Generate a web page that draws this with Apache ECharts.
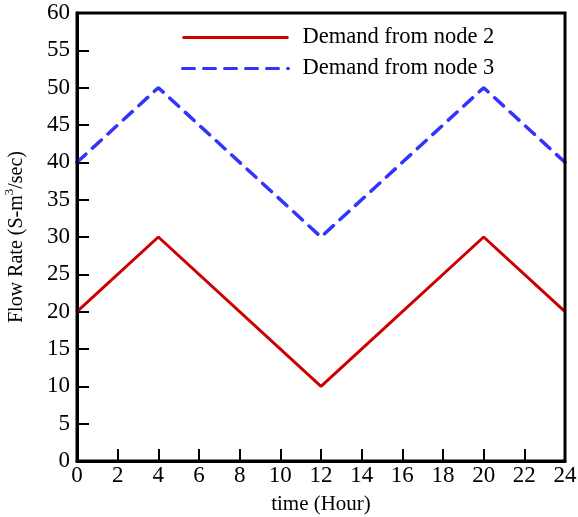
<!DOCTYPE html>
<html><head><meta charset="utf-8">
<script src="https://cdn.jsdelivr.net/npm/echarts@6/dist/echarts.min.js"></script>
<style>html,body{margin:0;padding:0;background:#fff}#c{width:578px;height:517px}</style>
</head><body><div id="c"></div>
<script>
const hours = [0, 4, 12, 20, 24];
const node2 = [20, 30, 10, 30, 20];
const node3 = [40, 50, 30, 50, 40];
const font = 'Liberation Serif';
const chart = echarts.init(document.getElementById('c'));
chart.setOption({
  animation: false,
  textStyle: {fontFamily: font},
  grid: {left: 77, right: 13, top: 13, bottom: 56, outerBoundsMode: 'none', containLabel: false},
  legend: {
    top: 21, left: 176, orient: 'vertical', itemGap: 8,
    itemWidth: 106, itemHeight: 22,
    itemStyle: {opacity: 0},
    lineStyle: {width: 3},
    textStyle: {fontFamily: font, fontSize: 22.5, color: '#000', padding: [0,0,0,9]},
    data: ['Demand from node 2', 'Demand from node 3']
  },
  xAxis: {
    type: 'value', min: 0, max: 24, interval: 2,
    name: 'time (Hour)', nameLocation: 'middle', nameGap: 33,
    nameTextStyle: {fontFamily: font, fontSize: 21, color: '#000'},
    axisLine: {show: true, lineStyle: {color: '#000', width: 3}},
    axisTick: {show: true, inside: true, length: 12, lineStyle: {color: '#000', width: 2}},
    axisLabel: {fontFamily: font, fontSize: 23, color: '#000', margin: 3},
    splitLine: {show: false}
  },
  yAxis: {
    type: 'value', min: 0, max: 60, interval: 5,
    name: '{a|Flow Rate (S-m}{s|3}{a|/sec)}', nameLocation: 'middle', nameGap: 50, nameRotate: 90,
    nameTextStyle: {rich: {
      a: {fontFamily: font, fontSize: 20, color: '#000', lineHeight: 24, verticalAlign: 'bottom'},
      s: {fontFamily: font, fontSize: 13, color: '#000', lineHeight: 13, verticalAlign: 'top'}}},
    axisLine: {show: true, lineStyle: {color: '#000', width: 3}},
    axisTick: {show: true, inside: true, length: 12, lineStyle: {color: '#000', width: 2}},
    axisLabel: {fontFamily: font, fontSize: 23, color: '#000', margin: 7},
    splitLine: {show: false}
  },
  series: [
    {name: 'Demand from node 2', type: 'line', symbol: 'none', data: hours.map((h,i)=>[h,node2[i]]),
     lineStyle: {color: '#cc0000', width: 3}, itemStyle: {color: '#cc0000'}},
    {name: 'Demand from node 3', type: 'line', symbol: 'none', data: hours.map((h,i)=>[h,node3[i]]),
     lineStyle: {color: '#3333ff', width: 3.5, type: [12, 9], cap: 'round'}, itemStyle: {color: '#3333ff'}}
  ],
  graphic: [{type: 'rect', shape: {x: 77, y: 13, width: 488, height: 448}, style: {fill: 'none', stroke: '#000', lineWidth: 3}, silent: true, z: 100}]
});
</script></body></html>
